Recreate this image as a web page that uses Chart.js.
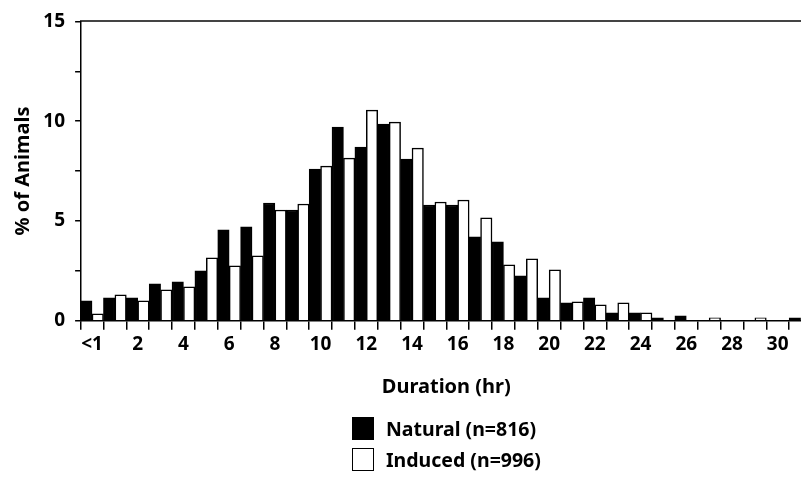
<!DOCTYPE html>
<html>
<head>
<meta charset="utf-8">
<script src="https://cdn.jsdelivr.net/npm/chart.js@4"></script>
<style>
  html, body { margin: 0; padding: 0; background: #fff; overflow: hidden; }
  #wrap { position: relative; width: 801px; height: 477px; overflow: hidden; }
  #myChart { position: absolute; left: 0; top: 0; }
  #legend { position: absolute; left: 352px; top: 417px; font-family: "Noto Sans", sans-serif; font-weight: bold; font-size: 19.5px; color: #000; }
  .item { display: flex; align-items: center; height: 23px; margin-bottom: 8px; }
  .box { width: 20px; height: 21px; border: 1px solid #000; margin-right: 12px; }
</style>
</head>
<body>
<div id="wrap">
  <canvas id="myChart" width="812" height="477"></canvas>
  <div id="legend"></div>
</div>
<script>
var categories = ['<1','1','2','3','4','5','6','7','8','9','10','11','12','13','14','15',
                  '16','17','18','19','20','21','22','23','24','25','26','27','28','29','30','31']
var natural = [1.0, 1.15, 1.15, 1.85, 1.95, 2.5, 4.55, 4.7, 5.9, 5.55, 7.6, 9.7, 8.7, 9.85, 8.1, 5.8,
               5.8, 4.2, 3.95, 2.25, 1.15, 0.9, 1.15, 0.4, 0.4, 0.15, 0.25, 0, 0, 0, 0, 0.15]
var induced = [0.35, 1.3, 1.0, 1.55, 1.7, 3.15, 2.75, 3.25, 5.55, 5.85, 7.75, 8.15, 10.55, 9.95, 8.65, 5.95,
               6.05, 5.15, 2.8, 3.1, 2.55, 0.95, 0.8, 0.9, 0.4, 0, 0, 0.15, 0, 0.15, 0, 0]
var seriesNames = ['Natural (n=816)', 'Induced (n=996)']
var yTickLabels = ['0', '5', '10', '15']

var font = { family: 'Noto Sans', weight: 'bold', size: 19 }
var titleFont = { family: 'Noto Sans', weight: 'bold', size: 20 }

var ctx = document.getElementById('myChart').getContext('2d')
var chart = new Chart(ctx, {
    type: 'bar',
    data: {
        labels: categories,
        datasets: [{
            label: seriesNames[0],
            data: natural,
            backgroundColor: '#000',
            borderColor: '#000',
            borderWidth: 1.5,
            categoryPercentage: 1,
            barPercentage: 1
        }, {
            label: seriesNames[1],
            data: induced,
            backgroundColor: '#fff',
            borderColor: '#000',
            borderWidth: 1.5,
            categoryPercentage: 1,
            barPercentage: 1
        }]
    },
    options: {
        responsive: false,
        animation: false,
        layout: { padding: { top: 12.7, left: 0, right: 0, bottom: 0 } },
        plugins: { legend: { display: false }, tooltip: { enabled: false } },
        scales: {
            x: {
                position: 'bottom',
                grid: { drawOnChartArea: false, tickLength: 9, color: '#000', lineWidth: 1.5 },
                border: { color: '#000', width: 1.5 },
                ticks: {
                    autoSkip: false, maxRotation: 0, padding: 3, color: '#000', font: font,
                    callback: function(v, i) { return i % 2 == 0 ? categories[i] : '' }
                },
                title: { display: true, text: 'Duration (hr)', color: '#000', font: titleFont,
                         padding: { top: 0, bottom: 78 } },
                afterFit: function(s) { s.height = 156.3 }
            },
            x2: {
                position: 'top',
                grid: { display: false },
                border: { color: '#444', width: 2 },
                ticks: { display: false },
                afterFit: function(s) { s.height = 0 }
            },
            y: {
                min: 0, max: 15,
                grid: { drawOnChartArea: false, tickLength: 5.5, color: '#000', lineWidth: 1.5 },
                border: { color: '#000', width: 1.5 },
                ticks: {
                    stepSize: 2.5, padding: 10, color: '#000', font: font,
                    callback: function(v) { return yTickLabels.indexOf(String(v)) >= 0 ? String(v) : '' }
                },
                title: { display: true, text: '% of Animals', color: '#000', font: titleFont,
                         padding: { top: 11.5, bottom: 0 } },
                afterFit: function(s) { s.width = 80.6 }
            }
        }
    }
})

// legend built from the datasets
var legend = document.getElementById('legend')
chart.data.datasets.forEach(function(ds) {
    var row = document.createElement('div')
    row.className = 'item'
    var box = document.createElement('span')
    box.className = 'box'
    box.style.background = ds.backgroundColor
    var txt = document.createElement('span')
    txt.textContent = ds.label
    row.appendChild(box)
    row.appendChild(txt)
    legend.appendChild(row)
})
</script>
</body>
</html>
